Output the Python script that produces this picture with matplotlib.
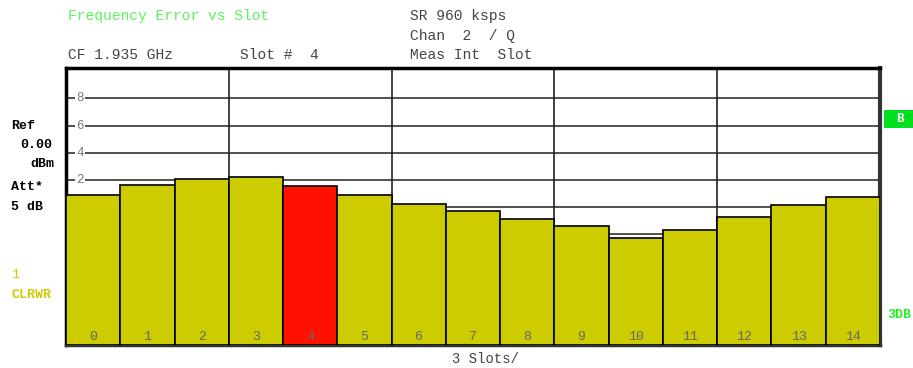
import matplotlib.pyplot as plt
import matplotlib.patches as mpatches
import numpy as np

# slot data
slots = list(range(15))
freq_err = [0.89, 1.62, 2.07, 2.2, 1.55, 0.89, 0.24, -0.32, -0.89, -1.45, -2.27, -1.7, -0.72, 0.15, 0.74]
sel_slot = 4
ytick_vals = [8, 6, 4, 2]
grid_vals = [8, 6, 4, 2, 0, -2, -4, -6, -8]

mono = 'Liberation Mono'
olive = '#cccc00'
green = '#5ef05e'
txt = '#444444'

fig = plt.figure(figsize=(9.13, 3.68), dpi=100)
ax = fig.add_axes([66/913, 1-345/368, 814/913, 277/368])
ax.set_xlim(-0.5, 14.5)
ax.set_ylim(-10.2, 10.25)

#grid
for g in grid_vals:
    ax.axhline(g, color='#333333', lw=1.2, zorder=1)
for k in range(1, 5):
    ax.axvline(-0.5 + 3*k, color='#222222', lw=1.2, zorder=1)
for g in ytick_vals:
    ax.text(-0.24, g, str(g), color='#777777', fontsize=9, family=mono, ha='center', va='center',
            bbox=dict(facecolor='white', edgecolor='none', pad=1.0), zorder=2)

#bars from the bottom of the screen
colors = ['#ff1100' if s == sel_slot else olive for s in slots]
heights = [v - (-10.2) for v in freq_err]
ax.bar(slots, heights, bottom=-10.2, width=1.0, color=colors, edgecolor='black', lw=1.2, zorder=3)
for s in slots:
    ax.text(s, -9.6, str(s), color='#666666', fontsize=9.5, family=mono, ha='center', va='center', zorder=4)

ax.set_xticks([])
ax.set_yticks([])
for side in ['top', 'left', 'bottom']:
    ax.spines[side].set_linewidth(2.5)
    ax.spines[side].set_color('black')
ax.spines['right'].set_linewidth(3)
ax.spines['right'].set_color('#333333')
ax.spines['bottom'].set_color('#333333')

def px(x, y, s, **kw):
    fig.text(x/913, 1-y/368, s, va='center', ha='left', **kw)

#header texts
px(68, 16, 'Frequency Error vs Slot', color=green, fontsize=10.5, family=mono)
px(410, 16, 'SR 960 ksps', color=txt, fontsize=10.5, family=mono)
px(410, 36, 'Chan  2  / Q', color=txt, fontsize=10.5, family=mono)
px(68, 55, 'CF 1.935 GHz', color=txt, fontsize=10.5, family=mono)
px(240, 55, 'Slot #  4', color=txt, fontsize=10.5, family=mono)
px(410, 55, 'Meas Int  Slot', color=txt, fontsize=10.5, family=mono)

#left side info
px(11, 126, 'Ref', color='black', fontsize=9.5, family=mono, weight='bold')
px(20, 145, '0.00', color='black', fontsize=9.5, family=mono, weight='bold')
px(30, 164, 'dBm', color='black', fontsize=9.5, family=mono, weight='bold')
px(11, 187, 'Att*', color='black', fontsize=9.5, family=mono, weight='bold')
px(11, 207, '5 dB', color='black', fontsize=9.5, family=mono, weight='bold')
px(11, 275, '1', color=olive, fontsize=9.5, family=mono)
px(11, 295, 'CLRWR', color=olive, fontsize=9.5, family=mono, weight='bold')

#right side markers
fig.patches.append(mpatches.Rectangle((884/913, 1-128/368), 29/913, 18/368,
                                      transform=fig.transFigure, facecolor='#00e020', edgecolor='none'))
fig.text(900/913, 1-119/368, 'B', color='white', fontsize=9, family=mono, weight='bold',
         ha='center', va='center')
px(887, 315, '3DB', color='#22ee22', fontsize=9.5, family=mono, weight='bold')

#bottom
px(452, 359, '3 Slots/', color=txt, fontsize=10, family=mono)

fig.savefig('out.png', dpi=100)
